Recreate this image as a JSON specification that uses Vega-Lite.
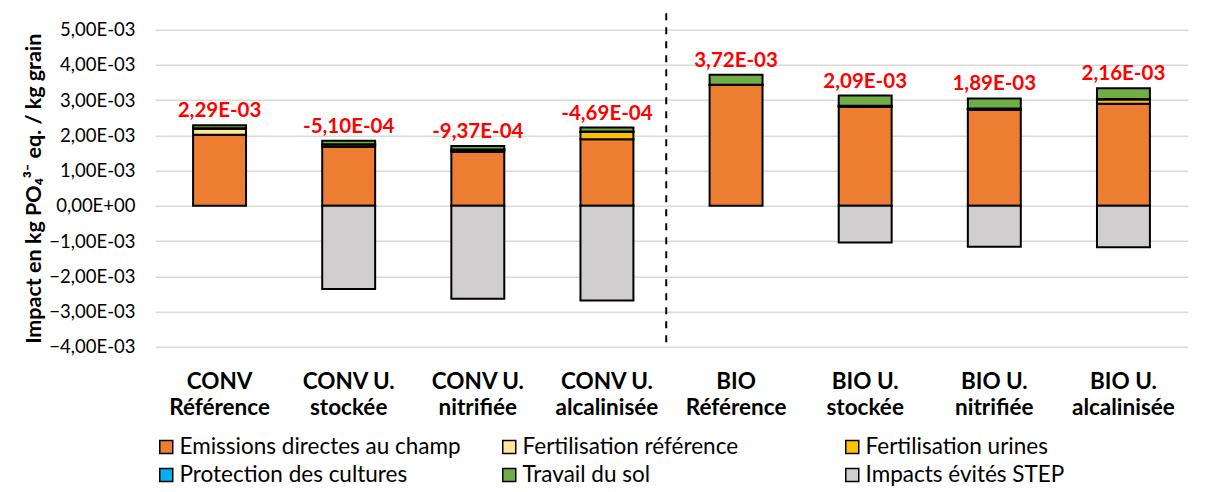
{
  "$schema": "https://vega.github.io/schema/vega-lite/v6.json",
  "width": 1033,
  "height": 317,
  "autosize": {"type": "none"},
  "padding": {"left": 155, "top": 29.7, "right": 25, "bottom": 145.3},
  "background": "white",
  "config": {
    "font": "Lato",
    "view": {"stroke": null},
    "axis": {"labelColor": "#000000", "titleColor": "#000000"}
  },
  "resolve": {"axis": {"y": "independent"}},
  "datasets": {
    "bars": [
      {"categorie": "CONV Référence", "poste": "Emissions directes au champ", "valeur": 0.00202, "ordre": 1},
      {"categorie": "CONV Référence", "poste": "Fertilisation référence", "valeur": 0.00017, "ordre": 2},
      {"categorie": "CONV Référence", "poste": "Protection des cultures", "valeur": 0.00001, "ordre": 4},
      {"categorie": "CONV Référence", "poste": "Travail du sol", "valeur": 0.00009, "ordre": 5},
      {"categorie": "CONV U. stockée", "poste": "Emissions directes au champ", "valeur": 0.00168, "ordre": 1},
      {"categorie": "CONV U. stockée", "poste": "Fertilisation urines", "valeur": 0.00006, "ordre": 3},
      {"categorie": "CONV U. stockée", "poste": "Protection des cultures", "valeur": 0.00001, "ordre": 4},
      {"categorie": "CONV U. stockée", "poste": "Travail du sol", "valeur": 0.0001, "ordre": 5},
      {"categorie": "CONV U. stockée", "poste": "Impacts évités STEP", "valeur": -0.00236, "ordre": 6},
      {"categorie": "CONV U. nitrifiée", "poste": "Emissions directes au champ", "valeur": 0.00153, "ordre": 1},
      {"categorie": "CONV U. nitrifiée", "poste": "Fertilisation urines", "valeur": 0.00006, "ordre": 3},
      {"categorie": "CONV U. nitrifiée", "poste": "Protection des cultures", "valeur": 0.00001, "ordre": 4},
      {"categorie": "CONV U. nitrifiée", "poste": "Travail du sol", "valeur": 0.0001, "ordre": 5},
      {"categorie": "CONV U. nitrifiée", "poste": "Impacts évités STEP", "valeur": -0.002637, "ordre": 6},
      {"categorie": "CONV U. alcalinisée", "poste": "Emissions directes au champ", "valeur": 0.00189, "ordre": 1},
      {"categorie": "CONV U. alcalinisée", "poste": "Fertilisation urines", "valeur": 0.00021, "ordre": 3},
      {"categorie": "CONV U. alcalinisée", "poste": "Protection des cultures", "valeur": 0.00001, "ordre": 4},
      {"categorie": "CONV U. alcalinisée", "poste": "Travail du sol", "valeur": 0.00011, "ordre": 5},
      {"categorie": "CONV U. alcalinisée", "poste": "Impacts évités STEP", "valeur": -0.002689, "ordre": 6},
      {"categorie": "BIO Référence", "poste": "Emissions directes au champ", "valeur": 0.00343, "ordre": 1},
      {"categorie": "BIO Référence", "poste": "Protection des cultures", "valeur": 0.00001, "ordre": 4},
      {"categorie": "BIO Référence", "poste": "Travail du sol", "valeur": 0.00028, "ordre": 5},
      {"categorie": "BIO U. stockée", "poste": "Emissions directes au champ", "valeur": 0.00281, "ordre": 1},
      {"categorie": "BIO U. stockée", "poste": "Fertilisation urines", "valeur": 0.00002, "ordre": 3},
      {"categorie": "BIO U. stockée", "poste": "Protection des cultures", "valeur": 0.00001, "ordre": 4},
      {"categorie": "BIO U. stockée", "poste": "Travail du sol", "valeur": 0.00029, "ordre": 5},
      {"categorie": "BIO U. stockée", "poste": "Impacts évités STEP", "valeur": -0.00104, "ordre": 6},
      {"categorie": "BIO U. nitrifiée", "poste": "Emissions directes au champ", "valeur": 0.00273, "ordre": 1},
      {"categorie": "BIO U. nitrifiée", "poste": "Fertilisation urines", "valeur": 0.00002, "ordre": 3},
      {"categorie": "BIO U. nitrifiée", "poste": "Protection des cultures", "valeur": 0.00001, "ordre": 4},
      {"categorie": "BIO U. nitrifiée", "poste": "Travail du sol", "valeur": 0.00029, "ordre": 5},
      {"categorie": "BIO U. nitrifiée", "poste": "Impacts évités STEP", "valeur": -0.00116, "ordre": 6},
      {"categorie": "BIO U. alcalinisée", "poste": "Emissions directes au champ", "valeur": 0.0029, "ordre": 1},
      {"categorie": "BIO U. alcalinisée", "poste": "Fertilisation urines", "valeur": 0.00012, "ordre": 3},
      {"categorie": "BIO U. alcalinisée", "poste": "Protection des cultures", "valeur": 0.00001, "ordre": 4},
      {"categorie": "BIO U. alcalinisée", "poste": "Travail du sol", "valeur": 0.00031, "ordre": 5},
      {"categorie": "BIO U. alcalinisée", "poste": "Impacts évités STEP", "valeur": -0.00118, "ordre": 6}
    ],
    "etiquettes": [
      {"categorie": "CONV Référence", "sommePositive": 0.00229, "etiquette": "2,29E-03"},
      {"categorie": "CONV U. stockée", "sommePositive": 0.00185, "etiquette": "-5,10E-04"},
      {"categorie": "CONV U. nitrifiée", "sommePositive": 0.0017, "etiquette": "-9,37E-04"},
      {"categorie": "CONV U. alcalinisée", "sommePositive": 0.00222, "etiquette": "-4,69E-04"},
      {"categorie": "BIO Référence", "sommePositive": 0.00372, "etiquette": "3,72E-03"},
      {"categorie": "BIO U. stockée", "sommePositive": 0.00313, "etiquette": "2,09E-03"},
      {"categorie": "BIO U. nitrifiée", "sommePositive": 0.00305, "etiquette": "1,89E-03"},
      {"categorie": "BIO U. alcalinisée", "sommePositive": 0.00334, "etiquette": "2,16E-03"}
    ],
    "separateur": [{"haut": 0.00547, "bas": -0.0039}]
  },
  "layer": [
    {
      "data": {"name": "bars"},
      "mark": {"type": "bar", "stroke": "#000000", "strokeWidth": 2},
      "encoding": {
        "x": {
          "field": "categorie",
          "type": "nominal",
          "sort": ["CONV Référence", "CONV U. stockée", "CONV U. nitrifiée", "CONV U. alcalinisée", "BIO Référence", "BIO U. stockée", "BIO U. nitrifiée", "BIO U. alcalinisée"],
          "scale": {"paddingInner": 0.59, "paddingOuter": 0.295},
          "axis": {
            "title": null,
            "orient": "bottom",
            "domain": false,
            "ticks": false,
            "grid": false,
            "labelAngle": 0,
            "labelFontSize": 22.5,
            "labelFontWeight": "bold",
            "labelPadding": 24,
            "labelBaseline": "top",
            "labelLineHeight": 26,
            "labelLimit": 300,
            "labelExpr": "indexof(datum.label, 'U.') >= 0 ? [substring(datum.label, 0, indexof(datum.label, 'U.') + 2), substring(datum.label, indexof(datum.label, 'U.') + 3)] : split(datum.label, ' ')"
          }
        },
        "y": {
          "field": "valeur",
          "type": "quantitative",
          "stack": "zero",
          "scale": {"domain": [-0.004, 0.005], "nice": false, "zero": false},
          "axis": {
            "title": "Impact en kg PO₄³⁻ eq. / kg grain",
            "titleFontSize": 21.5,
            "titleFontWeight": "bold",
            "titlePadding": 3,
            "values": [-0.004, -0.003, -0.002, -0.001, 0, 0.001, 0.002, 0.003, 0.004, 0.005],
            "labelExpr": "datum.value == 0 ? '0,00E+00' : replace(format(datum.value * 1000, '.2f'), '.', ',') + 'E-03'",
            "labelFontSize": 18.5,
            "labelPadding": 20,
            "labelOverlap": false,
            "labelFlush": false,
            "domain": false,
            "ticks": false,
            "grid": true,
            "gridColor": "#D9D9D9",
            "gridWidth": 1.5
          }
        },
        "color": {
          "field": "poste",
          "type": "nominal",
          "scale": {
            "domain": ["Emissions directes au champ", "Fertilisation référence", "Fertilisation urines", "Protection des cultures", "Travail du sol", "Impacts évités STEP"],
            "range": ["#ED7D31", "#FFE699", "#FFC000", "#00B0F0", "#70AD47", "#D0CECE"]
          },
          "legend": {
            "title": null,
            "orient": "bottom",
            "offset": 16,
            "columns": 3,
            "columnPadding": 37,
            "rowPadding": 5,
            "gridAlign": "all",
            "labelFontSize": 22.5,
            "labelOffset": 2,
            "labelLimit": 400,
            "labelColor": "#000000",
            "symbolType": "square",
            "symbolSize": 169,
            "symbolStrokeColor": "#000000",
            "symbolStrokeWidth": 1.5,
            "symbolOpacity": 1,
            "padding": 0
          }
        },
        "order": {"field": "ordre", "type": "quantitative"}
      }
    },
    {
      "data": {"name": "etiquettes"},
      "mark": {"type": "text", "fontSize": 20.5, "fontWeight": "bold", "color": "#FF0000", "baseline": "alphabetic", "dy": -8},
      "encoding": {
        "x": {"field": "categorie", "type": "nominal", "sort": ["CONV Référence", "CONV U. stockée", "CONV U. nitrifiée", "CONV U. alcalinisée", "BIO Référence", "BIO U. stockée", "BIO U. nitrifiée", "BIO U. alcalinisée"]},
        "y": {"field": "sommePositive", "type": "quantitative", "axis": null},
        "text": {"field": "etiquette"}
      }
    },
    {
      "data": {"name": "separateur"},
      "mark": {"type": "rule", "strokeDash": [7, 7], "strokeWidth": 2, "color": "#000000", "clip": false},
      "encoding": {
        "x": {"datum": "CONV U. alcalinisée", "bandPosition": 1.62},
        "y": {"field": "haut", "type": "quantitative", "axis": null},
        "y2": {"field": "bas"}
      }
    }
  ]
}
